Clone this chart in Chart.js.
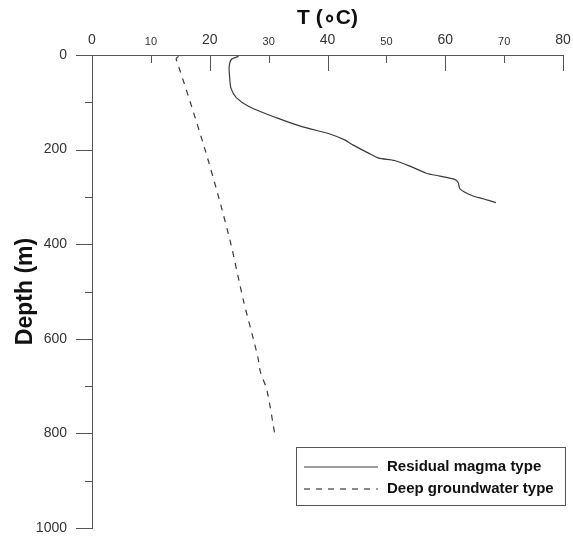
<!DOCTYPE html>
<html lang="en">
<head>
    <meta charset="UTF-8">
    <title>T vs Depth</title>
    <script src="https://cdn.jsdelivr.net/npm/chart.js"></script>
    <style>
        html, body { margin: 0; padding: 0; background: #fff; overflow: hidden; }
        canvas { display: block; }
    </style>
</head>
<body>
<canvas id="tempChart" width="573" height="537"></canvas>

<script>
// Residual magma type (solid line)
const magmaTemp  = [24.9, 23.7, 23.3, 23.4, 23.6, 24.5, 26.8, 31.4, 35.8, 40.4, 43.0, 44.3, 47.2, 48.7, 51.4, 54.0, 56.8, 59.1, 61.6, 62.2, 62.5, 64.5, 66.4, 68.6];
const magmaDepth = [3, 9, 25, 50, 70, 90, 110, 133, 152, 167, 180, 190, 209, 218, 223, 235, 250, 256, 263, 270, 283, 297, 304, 312];

// Deep groundwater type (dashed line)
const groundTemp  = [14.7, 14.3, 14.6, 15.0, 16.7, 19.2, 21.5, 23.6, 25.7, 27.4, 28.2, 28.6, 29.7, 31.1];
const groundDepth = [3, 8, 20, 35, 100, 200, 300, 400, 518, 600, 641, 670, 708, 805];

const seriesLabels = ['Residual magma type', 'Deep groundwater type'];
const tempTicks = [0, 10, 20, 30, 40, 50, 60, 70, 80];
const depthTicks = [0, 100, 200, 300, 400, 500, 600, 700, 800, 900, 1000];

const FONT = '"Liberation Sans", Arial, sans-serif';

function toPoints(xs, ys) {
    return xs.map((x, i) => ({x: x, y: ys[i]}));
}

// tick marks: inward on the top axis, outward on the left axis
const tickMarks = {
    id: 'tickMarks',
    afterDraw(chart) {
        const ctx = chart.ctx;
        const area = chart.chartArea;
        const xs = chart.scales.x, ys = chart.scales.y;
        ctx.save();
        ctx.strokeStyle = '#555';
        ctx.lineWidth = 1;
        ctx.beginPath();
        tempTicks.forEach(v => {
            const px = Math.round(xs.getPixelForValue(v)) + 0.5;
            const len = v % 20 === 0 ? 16 : 8;
            ctx.moveTo(px, area.top);
            ctx.lineTo(px, area.top + len);
        });
        depthTicks.forEach(v => {
            const py = Math.round(ys.getPixelForValue(v)) + 0.5;
            const len = v % 200 === 0 ? 16 : 7;
            ctx.moveTo(area.left - len, py);
            ctx.lineTo(area.left, py);
        });
        ctx.stroke();
        ctx.restore();
    }
};

// boxed legend inside the plot, bottom right
const boxLegend = {
    id: 'boxLegend',
    afterDraw(chart) {
        const ctx = chart.ctx;
        const area = chart.chartArea;
        const w = 269, h = 58;
        const left = area.right + 2 - w;
        const top = area.top + 392;
        ctx.save();
        ctx.strokeStyle = '#555';
        ctx.lineWidth = 1;
        ctx.strokeRect(left + 0.5, top + 0.5, w, h);
        ctx.font = 'bold 15px ' + FONT;
        ctx.textBaseline = 'middle';
        ctx.fillStyle = '#111';
        chart.data.datasets.forEach((ds, i) => {
            const y = top + 20 + i * 22;
            ctx.beginPath();
            ctx.strokeStyle = ds.borderColor;
            ctx.lineWidth = ds.borderWidth;
            ctx.setLineDash(ds.borderDash || []);
            ctx.moveTo(left + 8, y);
            ctx.lineTo(left + 82, y);
            ctx.stroke();
            ctx.setLineDash([]);
            ctx.fillText(ds.label, left + 91, y);
        });
        ctx.restore();
    }
};

const ctx = document.getElementById('tempChart').getContext('2d');
new Chart(ctx, {
    type: 'scatter',
    data: {
        datasets: [{
            label: seriesLabels[0],
            data: toPoints(magmaTemp, magmaDepth),
            showLine: true,
            borderColor: '#3a3a3a',
            borderWidth: 1.2,
            pointRadius: 0,
            tension: 0.25
        }, {
            label: seriesLabels[1],
            data: toPoints(groundTemp, groundDepth),
            showLine: true,
            borderColor: '#3a3a3a',
            borderWidth: 1.2,
            borderDash: [6, 6],
            pointRadius: 0,
            tension: 0.25
        }]
    },
    options: {
        responsive: false,
        maintainAspectRatio: false,
        animation: false,
        devicePixelRatio: 1,
        layout: { padding: { left: 0, right: 10, top: 0, bottom: 9 } },
        plugins: {
            legend: { display: false },
            tooltip: { enabled: false }
        },
        scales: {
            x: {
                type: 'linear',
                position: 'top',
                min: 0,
                max: 80,
                afterBuildTicks: (scale) => { scale.ticks = tempTicks.map(v => ({value: v})); },
                afterFit: (scale) => {
                    scale.height = 55;
                    scale.paddingLeft = 0;
                    scale.paddingRight = 0;
                },
                grid: { display: false, drawTicks: false },
                border: { display: true, color: '#555', width: 1 },
                ticks: {
                    padding: 6,
                    color: '#333',
                    maxRotation: 0,
                    autoSkip: false,
                    font: (c) => ({
                        family: FONT,
                        size: c.tick && c.tick.value % 20 === 0 ? 14 : 11
                    })
                },
                title: {
                    display: true,
                    text: 'T (∘C)',
                    color: '#111',
                    padding: { top: 6, bottom: 0 },
                    font: { family: FONT, size: 21, weight: 'bold' }
                }
            },
            y: {
                type: 'linear',
                reverse: true,
                min: 0,
                max: 1000,
                afterBuildTicks: (scale) => { scale.ticks = depthTicks.map(v => ({value: v})); },
                afterFit: (scale) => {
                    scale.width = 92;
                    scale.paddingTop = 0;
                    scale.paddingBottom = 0;
                },
                grid: { display: false, drawTicks: false },
                border: { display: true, color: '#555', width: 1 },
                ticks: {
                    padding: 25,
                    color: '#333',
                    autoSkip: false,
                    font: { family: FONT, size: 14 },
                    callback: (v) => v % 200 === 0 ? String(v) : ''
                },
                title: {
                    display: true,
                    text: 'Depth (m)',
                    color: '#111',
                    padding: { top: 12, bottom: 0 },
                    font: { family: FONT, size: 23, weight: 'bold' }
                }
            }
        }
    },
    plugins: [tickMarks, boxLegend]
});
</script>
</body>
</html>
